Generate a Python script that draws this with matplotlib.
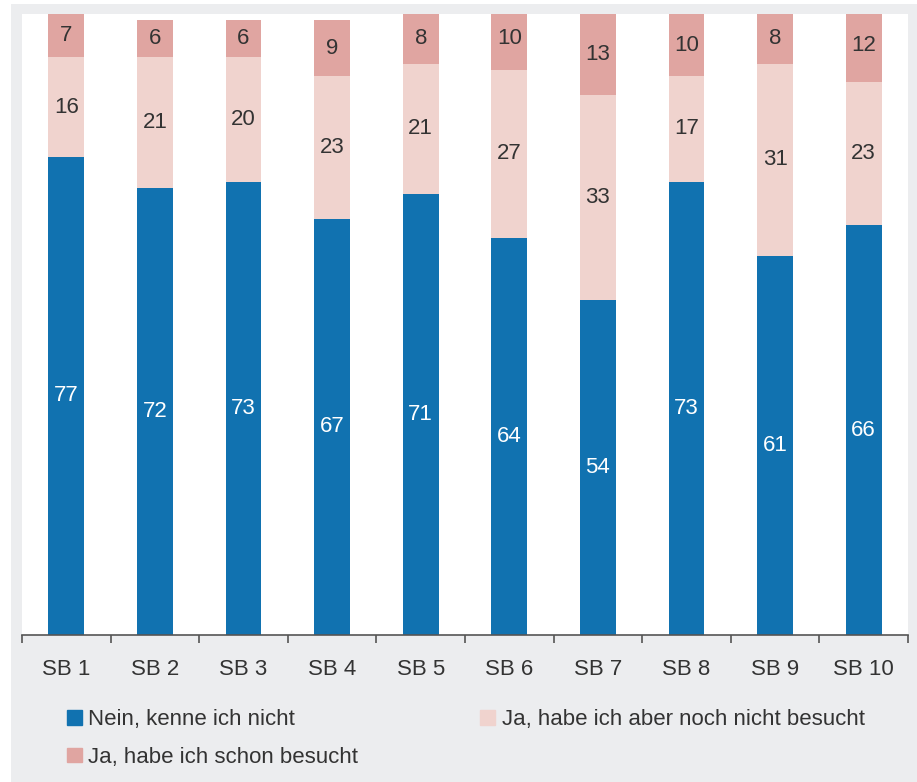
import matplotlib.pyplot as plt
import numpy as np
from matplotlib.patches import Rectangle, Patch

plt.rcParams['font.family'] = ['Liberation Sans', 'DejaVu Sans']

BLUE = '#1172b0'
LIGHT = '#f0d3ce'
DARK = '#e0a5a1'
PANEL = '#ecedef'
TEXT = '#333333'

categories = ['SB 1', 'SB 2', 'SB 3', 'SB 4', 'SB 5', 'SB 6', 'SB 7', 'SB 8', 'SB 9', 'SB 10']
nein = [77, 72, 73, 67, 71, 64, 54, 73, 61, 66]
ja_noch_nicht = [16, 21, 20, 23, 21, 27, 33, 17, 31, 23]
ja_besucht = [7, 6, 6, 9, 8, 10, 13, 10, 8, 12]

labels = ['Nein, kenne ich nicht', 'Ja, habe ich aber noch nicht besucht', 'Ja, habe ich schon besucht']

fig = plt.figure(figsize=(9.17, 7.82), dpi=100, facecolor='white')
# grey frame behind everything
fig.patches.append(Rectangle((11 / 917, 0), 1 - 11 / 917, 1 - 4 / 782,
                             transform=fig.transFigure, facecolor=PANEL,
                             edgecolor='none', zorder=-1))

ax = fig.add_axes([22 / 917, 147 / 782, 886 / 917, 621 / 782])
ax.set_zorder(1)
ax.set_facecolor('white')

x = np.arange(len(categories))
w = 0.406
bottom = np.zeros(len(categories))
series = [(nein, BLUE, 'white'), (ja_noch_nicht, LIGHT, TEXT), (ja_besucht, DARK, TEXT)]
for vals, col, tcol in series:
    vals = np.array(vals, dtype=float)
    ax.bar(x, vals, w, bottom=bottom, color=col, edgecolor='none')
    for xi, b, v in zip(x, bottom, vals):
        ax.text(xi, b + v / 2, str(int(v)), ha='center', va='center',
                fontsize=16, color=tcol)
    bottom += vals

ax.set_xlim(-0.5, len(categories) - 0.5)
ax.set_ylim(0, 100)
for s in ['top', 'left', 'right']:
    ax.spines[s].set_visible(False)
ax.spines['bottom'].set_color('#555555')
ax.spines['bottom'].set_linewidth(1.2)
ax.set_yticks([])

ax.set_xticks(x)
ax.set_xticklabels(categories, fontsize=16, color=TEXT)
ax.tick_params(axis='x', which='major', length=0, pad=17.5)
ax.set_xticks(np.arange(len(categories) + 1) - 0.5, minor=True)
ax.tick_params(axis='x', which='minor', length=6, width=1.2, color='#555555')

handles = [Patch(color=BLUE), Patch(color=DARK), Patch(color=LIGHT)]
fig.legend(handles, [labels[0], labels[2], labels[1]], ncol=2,
           loc='upper left', bbox_to_anchor=(56 / 917, 1 - 698 / 782),
           frameon=False, fontsize=16, labelcolor=TEXT,
           handlelength=0.65, handleheight=0.65, handletextpad=0.3,
           columnspacing=5.5, labelspacing=0.75, borderpad=0)

fig.savefig('out.png', dpi=100, facecolor=fig.get_facecolor())
